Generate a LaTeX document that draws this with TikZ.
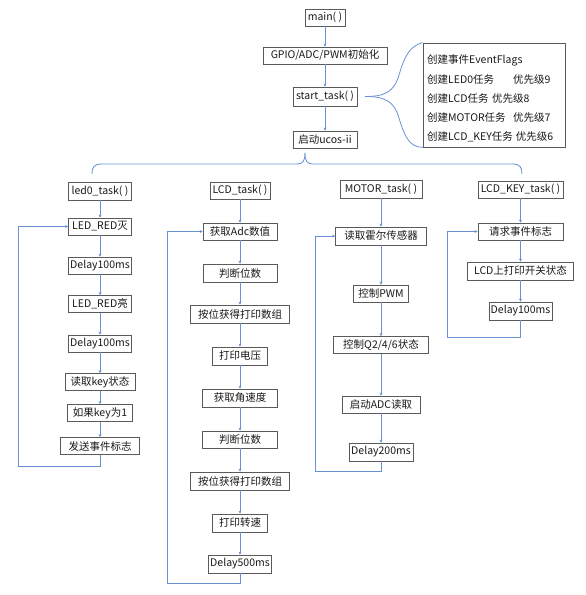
\documentclass[tikz,border=0pt]{standalone}
\usepackage{fontspec}
\setmainfont{Noto Sans CJK SC}
\usetikzlibrary{arrows.meta}
\definecolor{lnblue}{RGB}{104,144,212}
\definecolor{bxgray}{RGB}{90,90,90}
\definecolor{txgray}{RGB}{25,25,25}
\tikzset{
  box/.style={draw=bxgray, line width=0.8pt, fill=white, inner sep=0pt, minimum height=17pt, text=txgray, font=\fontsize{10.5}{12}\selectfont},
  flow/.style={draw=lnblue, line width=0.8pt, -{Stealth[length=3pt,width=3pt]}},
  plainline/.style={draw=lnblue, line width=0.8pt},
  infotext/.style={anchor=west, inner sep=0pt, text=txgray, font=\fontsize{10.5}{12}\selectfont}
}
\begin{document}
\begin{tikzpicture}[x=1pt,y=-1pt]
\useasboundingbox (0,0) rectangle (586,595);
% top chain
\node[box, minimum width=40pt] (main) at (325,17.5) {main( )};
\node[box, minimum width=124pt] (gpio) at (325,55.5) {GPIO/ADC/PWM初始化};
\node[box, minimum width=64pt, minimum height=19pt] (start) at (325,96.5) {start\_task( )};
\node[box, minimum width=64pt] (ucos) at (325,139.5) {启动ucos-ii};
\draw[flow] (main) -- (gpio);
\draw[flow] (gpio) -- (start);
\draw[flow] (start) -- (ucos);
% info box
\node[box, minimum width=142pt, minimum height=104pt] (info) at (494,95) {};
\node[infotext] (i1) at (427,60) {创建事件EventFlags};
\node[infotext] (i2) at (427,79.5) {\makebox[86pt][l]{创建LED0任务}优先级9};
\node[infotext] (i3) at (427,99) {\makebox[65pt][l]{创建LCD任务}优先级8};
\node[infotext] (i4) at (427,118) {\makebox[86pt][l]{创建MOTOR任务}优先级7};
\node[infotext] (i5) at (427,137) {创建LCD\_KEY任务\hspace{3pt}优先级6};
% brace from start_task to info box
\coordinate (btip) at (365,96.5);
\draw[plainline] (btip) .. controls (385,96.5) and (394,92) .. (399,75)
  .. controls (405,55) and (410,46) .. (info.north west);
\draw[plainline] (btip) .. controls (385,96.5) and (394,101) .. (399,118)
  .. controls (405,138) and (410,147) .. (info.south west);
% brace under ucos
\coordinate (ltop) at (305,153);
\coordinate (lend) at (92,174);
\coordinate (rend) at (522,174);
\draw[plainline] (lend) .. controls (92,167) and (94,164) .. (102,164) -- (297,164)
  .. controls (303,164) and (305,161) .. (ltop);
\draw[plainline] (ltop) .. controls (305,161) and (307,164) .. (313,164) -- (512,164)
  .. controls (520,164) and (522,167) .. (rend);
% column 1
\node[box, minimum width=63pt, minimum height=18pt] (led0) at (100,191) {led0\_task( )};
\node[box, minimum width=63pt] (roff) at (100,226.5) {LED\_RED灭};
\node[box, minimum width=63pt] (da) at (100,265.5) {Delay100ms};
\node[box, minimum width=63pt] (ron) at (100,304) {LED\_RED亮};
\node[box, minimum width=63pt] (db) at (100,343.5) {Delay100ms};
\node[box, minimum width=70pt] (rkey) at (100,382) {读取key状态};
\node[box, minimum width=65pt] (ifkey) at (100,413) {如果key为1};
\node[box, minimum width=79pt] (send) at (100,446) {发送事件标志};
\draw[flow] (led0) -- (roff);
\draw[flow] (roff) -- (da);
\draw[flow] (da) -- (ron);
\draw[flow] (ron) -- (db);
\draw[flow] (db) -- (rkey);
\draw[flow] (rkey) -- (ifkey);
\draw[flow] (ifkey) -- (send);
\draw[flow] (send.south) -- (100,466) -- (18,466) -- (18,226.5) -- (roff.west);
% column 2
\node[box, minimum width=60pt] (lcd) at (240,190.5) {LCD\_task( )};
\node[box, minimum width=74pt] (adc) at (240,231.5) {获取Adc数值};
\node[box, minimum width=74pt, minimum height=18pt] (j1) at (240,273) {判断位数};
\node[box, minimum width=99pt, minimum height=18pt] (arr1) at (240,314) {按位获得打印数组};
\node[box, minimum width=55pt, minimum height=18pt] (volt) at (240,356) {打印电压};
\node[box, minimum width=75pt, minimum height=18pt] (ang) at (240,398) {获取角速度};
\node[box, minimum width=75pt] (j2) at (240,439.5) {判断位数};
\node[box, minimum width=99pt, minimum height=18pt] (arr2) at (240,481) {按位获得打印数组};
\node[box, minimum width=55pt, minimum height=18pt] (spd) at (240,523) {打印转速};
\node[box, minimum width=63pt, minimum height=18pt] (d500) at (240,564) {Delay500ms};
\draw[flow] (lcd) -- (adc);
\draw[flow] (adc) -- (j1);
\draw[flow] (j1) -- (arr1);
\draw[flow] (arr1) -- (volt);
\draw[flow] (volt) -- (ang);
\draw[flow] (ang) -- (j2);
\draw[flow] (j2) -- (arr2);
\draw[flow] (arr2) -- (spd);
\draw[flow] (spd) -- (d500);
\draw[flow] (d500.south) -- (240,583) -- (167,583) -- (167,231.5) -- (adc.west);
% column 3
\node[box, minimum width=82pt, minimum height=18pt] (motor) at (381,189) {MOTOR\_task( )};
\node[box, minimum width=91pt, minimum height=18pt] (hall) at (381,236) {读取霍尔传感器};
\node[box, minimum width=55pt] (pwm) at (381,293.5) {控制PWM};
\node[box, minimum width=95pt] (q246) at (381,345) {控制Q2/4/6状态};
\node[box, minimum width=78pt] (adcr) at (381,404.5) {启动ADC读取};
\node[box, minimum width=64pt, minimum height=18pt] (d200) at (381,452) {Delay200ms};
\draw[flow] (motor) -- (hall);
\draw[flow] (hall) -- (pwm);
\draw[flow] (pwm) -- (q246);
\draw[flow] (q246) -- (adcr);
\draw[flow] (adcr) -- (d200);
\draw[flow] (d200.south) -- (381,471) -- (315,471) -- (315,236) -- (hall.west);
% column 4
\node[box, minimum width=85pt] (keyt) at (520.5,189.5) {LCD\_KEY\_task( )};
\node[box, minimum width=85pt] (req) at (520.5,231.5) {请求事件标志};
\node[box, minimum width=106pt, minimum height=18pt] (lprint) at (520.5,271) {LCD上打印开关状态};
\node[box, minimum width=63pt, minimum height=18pt] (d100) at (520.5,311) {Delay100ms};
\draw[flow] (keyt) -- (req);
\draw[flow] (req) -- (lprint);
\draw[flow] (lprint) -- (d100);
\draw[flow] (d100.south) -- (520.5,337) -- (447,337) -- (447,231.5) -- (req.west);
\end{tikzpicture}
\end{document}
